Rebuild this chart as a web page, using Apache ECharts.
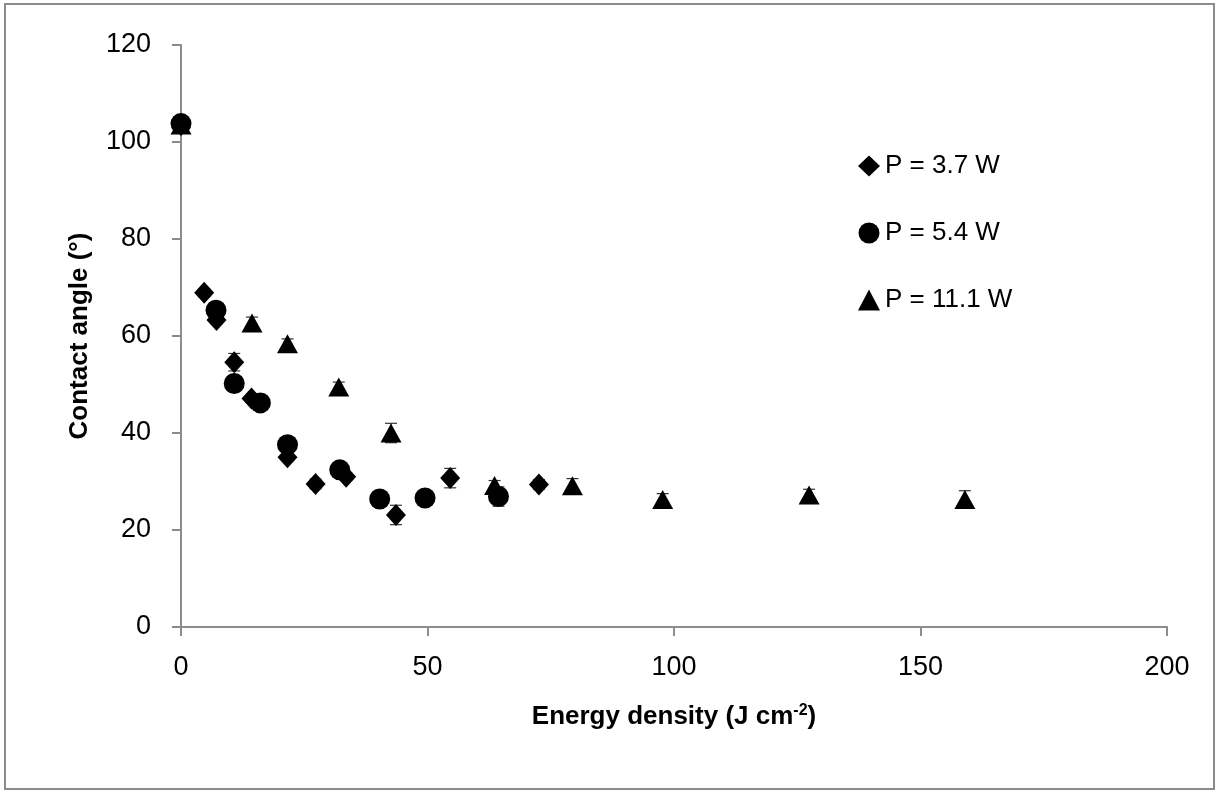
<!DOCTYPE html>
<html><head><meta charset="utf-8">
<script src="https://cdn.jsdelivr.net/npm/echarts@6/dist/echarts.min.js"></script>
<style>html,body{margin:0;padding:0;background:#fff}#c{width:1216px;height:792px}</style>
</head><body><div id="c"></div>
<script>
var s1x = [0, 4.7, 7.2, 10.8, 14.3, 21.6, 27.3, 33.5, 43.6, 54.6, 72.6];
var s1y = [103.5, 68.9, 63.3, 54.6, 47.1, 35.0, 29.5, 31.0, 23.1, 30.7, 29.4];
var s1e = [0.5, 0.8, 0.8, 1.8, 0.8, 0.8, 1.0, 0.8, 2.0, 2.0, 1.0];
var s2x = [0, 7.1, 10.8, 16.1, 21.6, 32.2, 40.3, 49.5, 64.4];
var s2y = [103.8, 65.3, 50.2, 46.2, 37.6, 32.4, 26.4, 26.6, 26.9];
var s2e = [0.5, 0.8, 1.2, 0.8, 1.0, 0.8, 0.8, 0.8, 2.0];
var s3x = [0, 14.4, 21.6, 32.0, 42.6, 63.6, 79.4, 97.7, 127.4, 159.0];
var s3y = [103.5, 62.7, 58.4, 49.5, 40.0, 29.2, 29.1, 26.3, 27.2, 26.3];
var s3e = [0.5, 1.2, 1.0, 1.0, 2.0, 1.0, 1.5, 1.2, 1.2, 1.8];
var names = ['P = 3.7 W', 'P = 5.4 W', 'P = 11.1 W'];

function pts(xs, ys){ return xs.map(function(x,i){return [x, ys[i]];}); }
function errs(xs, ys, es){ return xs.map(function(x,i){return [x, ys[i]-es[i], ys[i]+es[i]];}); }

function errSeries(data){
  return {
    type:'custom', data:data, z:1, silent:true,
    renderItem:function(params, api){
      var lo = api.coord([api.value(0), api.value(1)]);
      var hi = api.coord([api.value(0), api.value(2)]);
      var w = 6;
      var st = {stroke:'#333', lineWidth:1.2};
      return {type:'group', children:[
        {type:'line', shape:{x1:lo[0],y1:lo[1],x2:hi[0],y2:hi[1]}, style:st},
        {type:'line', shape:{x1:lo[0]-w,y1:lo[1],x2:lo[0]+w,y2:lo[1]}, style:st},
        {type:'line', shape:{x1:hi[0]-w,y1:hi[1],x2:hi[0]+w,y2:hi[1]}, style:st}
      ]};
    }
  };
}

var chart = echarts.init(document.getElementById('c'), null, {renderer:'canvas'});
var font = '"Liberation Sans", "Open Sans", sans-serif';
chart.setOption({
  animation:false,
  backgroundColor:'#fff',
  textStyle:{fontFamily:font},
  grid:{left:181, right:49, top:45, bottom:165, containLabel:false},
  graphic:[{type:'rect', shape:{x:5,y:4,width:1209,height:785}, style:{fill:'none', stroke:'#8c8c8c', lineWidth:2}, silent:true}],
  legend:{
    orient:'vertical', left:853, top:148, itemGap:41, itemWidth:22, itemHeight:21,
    textStyle:{fontSize:26, color:'#000', fontFamily:font},
    data:[
      {name:names[0], icon:'diamond'},
      {name:names[1], icon:'circle'},
      {name:names[2], icon:'triangle'}
    ]
  },
  xAxis:{
    type:'value', min:0, max:200, interval:50,
    name:'Energy density (J cm{sup|-2})', nameLocation:'middle', nameGap:76,
    nameTextStyle:{fontSize:26, fontWeight:'bold', color:'#000', fontFamily:font,
      rich:{sup:{fontSize:16, fontWeight:'bold', verticalAlign:'top', padding:[0,0,12,0], color:'#000', fontFamily:font}}},
    axisLine:{lineStyle:{color:'#8c8c8c', width:2}},
    axisTick:{show:true, inside:false, length:9, lineStyle:{color:'#8c8c8c', width:2}},
    axisLabel:{fontSize:27, color:'#000', margin:27, fontFamily:font},
    splitLine:{show:false}
  },
  yAxis:{
    type:'value', min:0, max:120, interval:20,
    name:'Contact angle (°)', nameLocation:'middle', nameGap:88,
    nameTextStyle:{fontSize:26, fontWeight:'bold', color:'#000', fontFamily:font},
    axisLine:{show:true, lineStyle:{color:'#8c8c8c', width:2}},
    axisTick:{show:true, length:9, lineStyle:{color:'#8c8c8c', width:2}},
    axisLabel:{fontSize:27, color:'#000', margin:30, fontFamily:font},
    splitLine:{show:false}
  },
  series:[
    errSeries(errs(s1x,s1y,s1e)),
    errSeries(errs(s2x,s2y,s2e)),
    errSeries(errs(s3x,s3y,s3e)),
    {name:names[0], type:'scatter', symbol:'diamond', symbolSize:[20,22], data:pts(s1x,s1y), itemStyle:{color:'#000', opacity:1}, z:3},
    {name:names[1], type:'scatter', symbol:'circle', symbolSize:21, data:pts(s2x,s2y), itemStyle:{color:'#000', opacity:1}, z:4},
    {name:names[2], type:'scatter', symbol:'triangle', symbolSize:[21,19], data:pts(s3x,s3y), itemStyle:{color:'#000', opacity:1}, z:2}
  ]
});
</script></body></html>
